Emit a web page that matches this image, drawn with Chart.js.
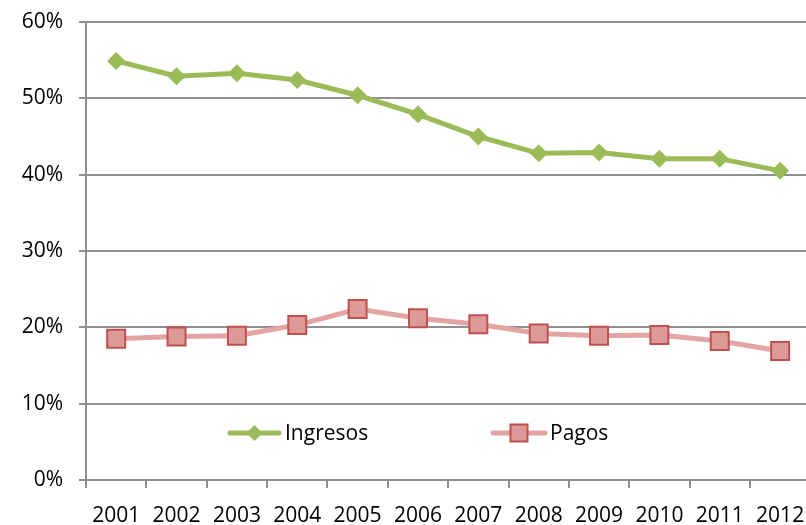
<!DOCTYPE html>
<html>
<head>
<meta charset="utf-8">
<script src="https://cdn.jsdelivr.net/npm/chart.js@4.4.1/dist/chart.umd.min.js"></script>
<style>
  html, body { margin: 0; padding: 0; background: #fff; }
  #wrap { width: 806px; height: 525px; overflow: hidden; }
  #box { width: 825px; height: 525px; }
</style>
</head>
<body>
<div id="wrap"><div id="box"><canvas id="chart"></canvas></div></div>
<script>
// --- data ---
const years = ["2001", "2002", "2003", "2004", "2005", "2006", "2007", "2008", "2009", "2010", "2011", "2012"];
const ingresos = [54.9, 52.9, 53.3, 52.4, 50.4, 47.9, 45.0, 42.8, 42.9, 42.1, 42.1, 40.5];
const pagos = [18.5, 18.8, 18.9, 20.3, 22.4, 21.2, 20.4, 19.2, 18.9, 19.0, 18.2, 16.9];
const yMin = 0, yMax = 60, yStep = 10;

const FONT = "'Open Sans', 'Liberation Sans', sans-serif";
const GRID = "#8f8f8f";

// legend drawn inside the plot area, like the original
const insideLegend = {
  id: "insideLegend",
  afterDraw(chart) {
    const ctx = chart.ctx;
    const y = 433;
    const items = [
      { ds: chart.data.datasets[0], x0: 230, x1: 279, text: 285 },
      { ds: chart.data.datasets[1], x0: 493, x1: 545, text: 550 }
    ];
    ctx.save();
    items.forEach((it) => {
      const ds = it.ds;
      const cx = (it.x0 + it.x1) / 2;
      ctx.strokeStyle = ds.borderColor;
      ctx.lineWidth = ds.borderWidth;
      ctx.lineCap = "round";
      ctx.beginPath();
      ctx.moveTo(it.x0, y);
      ctx.lineTo(it.x1, y);
      ctx.stroke();
      ctx.fillStyle = ds.pointBackgroundColor;
      ctx.strokeStyle = ds.pointBorderColor;
      ctx.lineWidth = ds.pointBorderWidth;
      ctx.beginPath();
      if (ds.pointStyle === "rectRot") {
        const r = 8;
        ctx.moveTo(cx, y - r);
        ctx.lineTo(cx + r, y);
        ctx.lineTo(cx, y + r);
        ctx.lineTo(cx - r, y);
        ctx.closePath();
      } else {
        ctx.rect(cx - 8.5, y - 8.5, 17, 17);
      }
      ctx.fill();
      if (ds.pointBorderWidth) ctx.stroke();
      ctx.fillStyle = "#000";
      ctx.font = "21px " + FONT;
      ctx.textBaseline = "middle";
      ctx.textAlign = "left";
      ctx.fillText(ds.label, it.text, y + 1);
    });
    ctx.restore();
  }
};

new Chart(document.getElementById("chart"), {
  type: "line",
  data: {
    labels: years,
    datasets: [
      {
        label: "Ingresos",
        data: ingresos,
        borderColor: "#9BBB59",
        borderWidth: 5,
        pointStyle: "rectRot",
        pointRadius: 9,
        pointBackgroundColor: "#9BBB59",
        pointBorderColor: "#9BBB59",
        pointBorderWidth: 0,
        tension: 0
      },
      {
        label: "Pagos",
        data: pagos,
        borderColor: "#E3A5A4",
        borderWidth: 5,
        pointStyle: "rect",
        pointRadius: 12.7,
        pointBackgroundColor: "#DB9997",
        pointBorderColor: "#C0504D",
        pointBorderWidth: 2,
        tension: 0
      }
    ]
  },
  options: {
    responsive: true,
    maintainAspectRatio: false,
    animation: false,
    layout: { padding: { top: 22, right: 2, left: 0, bottom: 0 } },
    plugins: { legend: { display: false }, tooltip: { enabled: false } },
    scales: {
      x: {
        offset: true,
        grid: { offset: true, drawOnChartArea: false, drawTicks: true, tickLength: 8, color: GRID, lineWidth: 2 },
        border: { color: GRID, width: 2 },
        ticks: { color: "#000", font: { family: FONT, size: 21 }, padding: 15, maxRotation: 0, autoSkip: false },
        afterFit(scale) { scale.height = 45; scale.paddingLeft = 0; scale.paddingRight = 0; }
      },
      y: {
        min: yMin,
        max: yMax,
        ticks: {
          stepSize: yStep,
          color: "#000",
          font: { family: FONT, size: 21 },
          padding: 16,
          callback: (v) => v + "%"
        },
        grid: { color: GRID, lineWidth: 2, drawTicks: true, tickLength: 7 },
        border: { color: GRID, width: 2 },
        afterFit(scale) { scale.width = 86; scale.paddingTop = 0; scale.paddingBottom = 0; }
      }
    }
  },
  plugins: [insideLegend]
});
</script>
</body>
</html>
